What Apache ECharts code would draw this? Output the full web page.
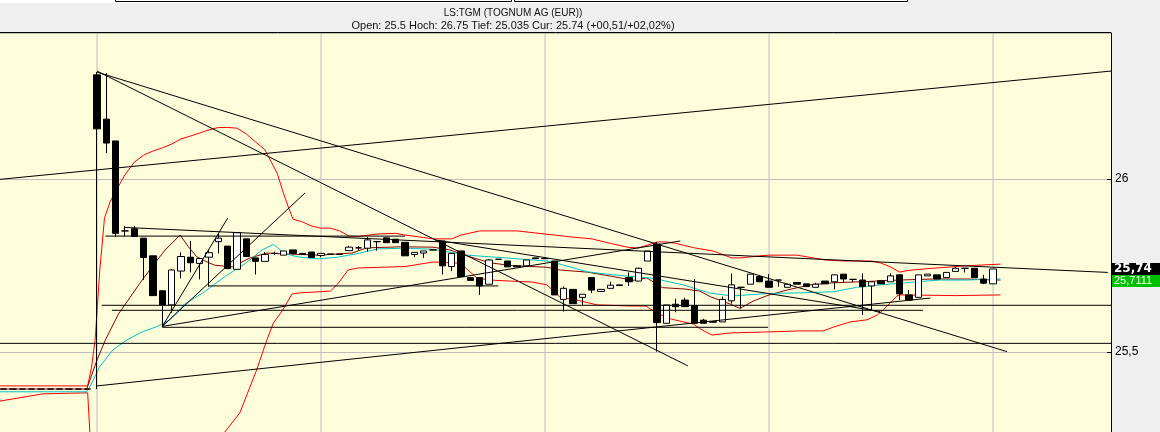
<!DOCTYPE html>
<html><head><meta charset="utf-8">
<script src="https://cdn.jsdelivr.net/npm/echarts@6/dist/echarts.min.js"></script>
<style>html,body{margin:0;padding:0;background:#efefef;overflow:hidden}#c{width:1160px;height:432px}</style>
</head><body><div id="c"></div>
<script>
const titleText = 'LS:TGM (TOGNUM AG (EUR))';
const subtitleText = 'Open: 25.5 Hoch: 26.75 Tief: 25.035 Cur: 25.74 (+00,51/+02,02%)';
const yTickInterval = 0.5;
const xGridBars = [10, 34, 58, 82, 106];
const maLastValue = 25.7111;

// OHLC per bar (bar index = array position)
const opens = [
 25.393,25.393,25.393,25.393,25.393,25.393,25.393,25.393,25.393,25.393,
 26.301,26.173,26.110,25.850,25.856,25.829,25.778,25.677,25.636,25.734,
 25.774,25.756,25.774,25.819,25.806,25.739,25.827,25.772,25.762,25.785,
 25.780,25.795,25.785,25.789,25.779,25.783,25.783,25.793,25.801,25.800,
 25.819,25.830,25.826,25.817,25.782,25.786,25.795,25.821,25.747,25.792,
 25.715,25.715,25.696,25.768,25.763,25.749,25.749,25.772,25.770,25.763,
 25.652,25.681,25.658,25.715,25.675,25.684,25.694,25.715,25.705,25.763,
 25.812,25.583,25.638,25.650,25.634,25.592,25.588,25.587,25.648,25.687,
 25.696,25.718,25.705,25.708,25.687,25.701,25.697,25.687,25.705,25.703,
 25.725,25.710,25.708,25.691,25.706,25.703,25.723,25.665,25.658,25.720,
 25.723,25.715,25.733,25.742,25.742,25.711,25.697];
const closes = [
 25.393,25.393,25.393,25.393,25.393,25.393,25.393,25.393,25.393,25.393,
 26.145,26.104,25.843,25.850,25.834,25.773,25.663,25.636,25.737,25.776,
 25.758,25.770,25.787,25.829,25.741,25.845,25.776,25.762,25.782,25.785,
 25.792,25.785,25.782,25.773,25.785,25.783,25.782,25.803,25.801,25.824,
 25.819,25.816,25.816,25.778,25.788,25.792,25.795,25.749,25.785,25.718,
 25.707,25.691,25.766,25.768,25.746,25.746,25.766,25.770,25.770,25.665,
 25.684,25.640,25.667,25.679,25.681,25.693,25.692,25.703,25.742,25.792,
 25.585,25.636,25.631,25.631,25.583,25.583,25.586,25.652,25.694,25.687,
 25.725,25.703,25.687,25.708,25.696,25.696,25.689,25.696,25.697,25.723,
 25.711,25.710,25.689,25.703,25.697,25.720,25.668,25.650,25.723,25.725,
 25.711,25.730,25.742,25.742,25.715,25.699,25.740];
const lows = [
 25.393,25.393,25.393,25.393,25.393,25.393,25.393,25.393,25.393,25.393,
 25.393,26.075,25.833,25.835,25.832,25.708,25.663,25.572,25.613,25.713,
 25.730,25.710,25.689,25.785,25.741,25.739,25.776,25.724,25.762,25.780,
 25.780,25.785,25.782,25.773,25.774,25.783,25.782,25.793,25.794,25.790,
 25.793,25.816,25.816,25.778,25.774,25.772,25.795,25.724,25.734,25.718,
 25.707,25.665,25.696,25.768,25.746,25.746,25.749,25.770,25.770,25.665,
 25.617,25.640,25.636,25.670,25.675,25.684,25.692,25.691,25.705,25.763,
 25.501,25.583,25.615,25.631,25.583,25.583,25.586,25.587,25.640,25.626,
 25.696,25.703,25.687,25.689,25.687,25.696,25.689,25.687,25.697,25.681,
 25.700,25.702,25.607,25.621,25.697,25.703,25.650,25.650,25.658,25.720,
 25.711,25.715,25.733,25.730,25.715,25.696,25.697];
const highs = [
 25.393,25.393,25.393,25.393,25.393,25.393,25.393,25.393,25.393,25.393,
 26.309,26.306,26.110,25.864,25.864,25.829,25.778,25.677,25.740,25.788,
 25.821,25.772,25.795,25.842,25.806,25.847,25.827,25.772,25.789,25.790,
 25.792,25.795,25.785,25.789,25.785,25.783,25.783,25.807,25.806,25.832,
 25.821,25.830,25.826,25.817,25.788,25.792,25.795,25.821,25.785,25.792,
 25.715,25.715,25.768,25.768,25.763,25.749,25.766,25.772,25.770,25.763,
 25.690,25.681,25.667,25.715,25.681,25.703,25.694,25.730,25.744,25.792,
 25.818,25.636,25.654,25.657,25.711,25.596,25.588,25.660,25.727,25.687,
 25.725,25.722,25.725,25.708,25.696,25.701,25.697,25.700,25.705,25.723,
 25.725,25.710,25.727,25.703,25.706,25.727,25.723,25.679,25.723,25.725,
 25.723,25.730,25.746,25.742,25.742,25.723,25.740];

// Bollinger bands and moving average, read as [bar position, price]
const bbUpper = [[-0.4,25.402],[9,25.402],[9.4,25.454],[9.8,25.535],[10.3,25.737],[10.8,25.887],[11.4,25.934],[12,25.965],[13,26.012],[14,26.049],[15,26.069],[16,26.081],[17,26.090],[18,26.101],[19,26.116],[20,26.124],[21,26.133],[22,26.142],[23,26.149],[24,26.149],[25,26.147],[26,26.130],[27,26.107],[28,26.084],[28.5,26.058],[29.3,26.017],[30,25.957],[30.5,25.919],[31,25.884],[32,25.876],[33,25.864],[34,25.858],[35,25.858],[36,25.850],[37,25.835],[38,25.834],[40,25.841],[42,25.843],[43,25.838],[45,25.831],[46,25.827],[48,25.827],[49,25.838],[51,25.850],[55,25.850],[57,25.844],[59,25.838],[61,25.832],[63,25.827],[65,25.814],[67,25.802],[68,25.801],[69,25.809],[70,25.818],[71,25.818],[72,25.814],[74,25.801],[76,25.792],[78,25.772],[79,25.772],[81,25.778],[82,25.780],[85,25.780],[88,25.766],[90,25.763],[93,25.763],[94,25.757],[95,25.746],[96,25.731],[97,25.736],[99,25.741],[103,25.749],[106.8,25.754]];
const bbLower = [[-0.4,25.358],[4.2,25.379],[9,25.382],[9.4,25.188],[10.3,24.90],[21,24.90],[23.7,25.269],[25.3,25.324],[27.1,25.448],[28.2,25.535],[28.9,25.584],[29.9,25.621],[30.9,25.668],[31.8,25.671],[35,25.676],[35.8,25.697],[36.9,25.737],[38,25.743],[43,25.747],[46,25.760],[48.9,25.757],[50.7,25.714],[52.1,25.708],[54.3,25.705],[56.7,25.702],[58.2,25.694],[59.6,25.659],[61.4,25.650],[63.6,25.636],[67.2,25.633],[68.8,25.633],[69.3,25.624],[71.1,25.598],[72.8,25.587],[73.9,25.581],[74.6,25.567],[75.9,25.549],[77.8,25.555],[81.8,25.558],[85.3,25.561],[87.8,25.561],[88.9,25.572],[90.7,25.587],[92.5,25.593],[93.6,25.607],[94.2,25.621],[95,25.642],[95.7,25.662],[96,25.665],[102.1,25.663],[106.8,25.665]];
const bbMiddle = [[-0.4,25.393],[8.9,25.393],[10,25.477],[10.9,25.535],[12.3,25.610],[13.5,25.656],[14.6,25.699],[15.9,25.746],[17.3,25.795],[18.9,25.838],[19.8,25.804],[20.7,25.775],[21.8,25.760],[22.6,25.751],[24.5,25.746],[26.4,25.772],[28.2,25.786],[30.4,25.783],[33.9,25.780],[37.3,25.786],[38.9,25.801],[42.5,25.804],[46,25.803],[47.8,25.795],[49.6,25.778],[52.1,25.758],[54.3,25.750],[58.2,25.745],[59.6,25.737],[62.5,25.731],[65.3,25.718],[67.4,25.707],[68.9,25.714],[70.6,25.686],[73,25.682],[74.6,25.676],[75.7,25.660],[77.8,25.639],[78.9,25.626],[80.3,25.647],[81.8,25.663],[83.9,25.679],[86.4,25.694],[88.9,25.700],[91.8,25.703],[96,25.708],[99.6,25.711],[103.2,25.711],[106.8,25.708]];
const maCyan = [[-0.4,25.385],[8.9,25.385],[9.25,25.400],[10.3,25.458],[11.7,25.506],[13.2,25.535],[14.9,25.559],[16.4,25.573],[17.8,25.593],[19.4,25.639],[21.3,25.670],[23.7,25.718],[25.9,25.756],[27.7,25.795],[28.9,25.811],[30.1,25.785],[31.5,25.775],[33.7,25.769],[35.8,25.774],[38,25.785],[40.1,25.798],[43,25.800],[46,25.797],[49.6,25.780],[54.3,25.771],[58.2,25.763],[59.6,25.754],[62.5,25.732],[65.3,25.723],[69.6,25.713],[72.8,25.694],[75.7,25.670],[78.1,25.662],[81.8,25.669],[85.3,25.671],[88.9,25.674],[91.4,25.687],[93.9,25.694],[97.9,25.703],[100.3,25.708],[103.2,25.708],[106.8,25.7111]];

// Drawn trend lines: [[bar, price], [bar, price]]
const trendLines = [
 [[-0.4,25.999],[118.64,26.312]],
 [[10,26.309],[107.5,25.501]],
 [[10,26.312],[73.3,25.460]],
 [[17,25.574],[24,25.887]],
 [[17,25.574],[32.3,25.960]],
 [[17,25.574],[72.5,25.821]],
 [[13,25.860],[118.3,25.730]],
 [[10,25.402],[99.3,25.656]],
 [[46.2,25.824],[93.9,25.617]],
 [[21.9,25.691],[53,25.691]],
 [[10.5,25.635],[118.64,25.635]],
 [[11.6,25.6205],[98.5,25.6205]],
 [[17,25.5714],[81.9,25.5714]],
 [[-0.4,25.525],[118.64,25.525]],
 [[10.9,25.835],[43,25.835]]
];

const X_MIN = -0.393, X_MAX = 118.64, Y_MIN = 25.0, Y_MAX = 26.422;
const fmt = v => String(v).replace('.', ',');

const candleData = opens.map((o, i) => [i, o, closes[i], lows[i], highs[i]]);
const lineSeries = (data, color, z) => ({
  type: 'line', data, showSymbol: false, symbol: 'none', silent: true, z,
  lineStyle: { color, width: 1 }, animation: false
});

const gridSeries = xGridBars.map(b => lineSeries([[b, Y_MIN], [b, Y_MAX]], '#bdbdbd', 0));

const series = gridSeries.concat([
  lineSeries(bbUpper, '#ff0000', 2),
  lineSeries(bbLower, '#ff0000', 2),
  lineSeries(bbMiddle, '#8b0000', 2),
  lineSeries(maCyan, '#00c4c4', 2),
  { type: 'candlestick', data: candleData, barWidth: 7, z: 3, silent: true, animation: false,
    itemStyle: { color: '#ffffff', color0: '#000000', borderColor: '#000000', borderColor0: '#000000', borderWidth: 1 } }
]).concat(trendLines.map(t => lineSeries(t, '#000000', 4)));

const chart = echarts.init(document.getElementById('c'));
chart.setOption({
  animation: false,
  backgroundColor: '#efefef',
  grid: { left: 0, right: 49, top: 33, bottom: -93, outerBoundsMode: 'none', containLabel: false,
    show: true, backgroundColor: '#fdfddb', borderWidth: 0 },
  xAxis: { type: 'value', min: X_MIN, max: X_MAX, show: false },
  yAxis: { type: 'value', position: 'right', min: Y_MIN, max: Y_MAX, interval: yTickInterval,
    axisLine: { show: true, onZero: false, lineStyle: { color: '#000', width: 1 } },
    axisTick: { show: true, inside: true, length: 4, lineStyle: { color: '#000' } },
    axisLabel: { show: true, showMaxLabel: false, formatter: v => fmt(v), color: '#000',
      fontFamily: 'Liberation Sans', fontSize: 12, margin: 4 },
    splitLine: { show: true, lineStyle: { color: '#bdbdbd', width: 1 } } },
  series
});

const yLast = chart.convertToPixel({ yAxisIndex: 0 }, closes[closes.length - 1]);
const yMa = chart.convertToPixel({ yAxisIndex: 0 }, maLastValue);
const gTop = Math.max(yMa - 6, yLast + 6);
chart.setOption({
  graphic: [
    { type: 'rect', shape: { x: 0, y: 0, width: 908, height: 3 }, style: { fill: '#ffffff' }, silent: true },
    { type: 'polyline', shape: { points: [[115.5, 0], [115.5, 1.5], [511.5, 1.5], [511.5, 0]] }, style: { stroke: '#000', lineWidth: 1, fill: null }, silent: true },
    { type: 'polyline', shape: { points: [[514.5, 0], [514.5, 1.5], [907.5, 1.5], [907.5, 0]] }, style: { stroke: '#000', lineWidth: 1, fill: null }, silent: true },
    { type: 'line', shape: { x1: 0, y1: 32.5, x2: 1111, y2: 32.5 }, style: { stroke: '#000', lineWidth: 1 }, silent: true },
    { type: 'text', x: 513, y: 13, style: { text: titleText, fill: '#111', font: '10px "Liberation Sans"', align: 'center', verticalAlign: 'middle' }, silent: true },
    { type: 'text', x: 513, y: 26, style: { text: subtitleText, fill: '#111', font: '11px "Liberation Sans"', align: 'center', verticalAlign: 'middle' }, silent: true },
    { type: 'rect', shape: { x: 1112, y: yLast - 6, width: 48, height: 12 }, style: { fill: '#000000' }, silent: true },
    { type: 'text', x: 1114, y: yLast, style: { text: fmt(closes[closes.length - 1]), fill: '#ffffff', font: 'bold 12px "DejaVu Sans"', verticalAlign: 'middle' }, silent: true },
    { type: 'rect', shape: { x: 1112, y: gTop, width: 48, height: 12 }, style: { fill: '#00c000' }, silent: true },
    { type: 'text', x: 1114, y: gTop + 6, style: { text: fmt(maLastValue), fill: '#ffffff', font: '11px "Liberation Sans"', verticalAlign: 'middle' }, silent: true }
  ]
});
</script></body></html>
